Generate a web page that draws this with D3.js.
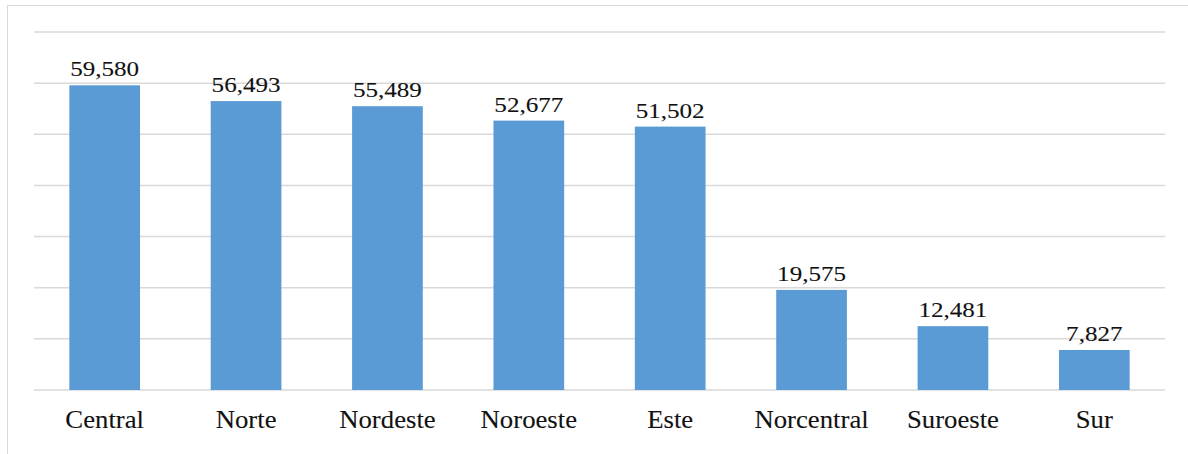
<!DOCTYPE html>
<html>
<head>
<meta charset="utf-8">
<script src="https://cdn.jsdelivr.net/npm/d3@7"></script>
<style>
  body { margin: 0; background: #fff; }
</style>
</head>
<body>
<div id="chart-area"></div>
<script>
// Data
var regions = ["Central", "Norte", "Nordeste", "Noroeste", "Este", "Norcentral", "Suroeste", "Sur"];
var counts = [59580, 56493, 55489, 52677, 51502, 19575, 12481, 7827];
var gridTicks = [0, 10000, 20000, 30000, 40000, 50000, 60000, 70000];

var data = regions.map(function(r, i) { return { region: r, value: counts[i] }; });

var serif = "'Liberation Serif', 'Times New Roman', serif";

var W = 1188, H = 454;
var margin = { left: 34, right: 23, top: 32, bottom: 64 },
    width = W - margin.left - margin.right,
    height = H - margin.top - margin.bottom;

var svg = d3.select("#chart-area").append("svg")
    .attr("width", W)
    .attr("height", H);

// chart frame
svg.append("rect")
    .attr("x", 7.5).attr("y", 5.5)
    .attr("width", W).attr("height", H)
    .attr("fill", "none")
    .attr("stroke", "#d9d9d9")
    .attr("stroke-width", 1);

var g = svg.append("g")
    .attr("transform", "translate(" + margin.left + "," + margin.top + ")");

var x = d3.scaleBand().domain(regions).range([0, width])
    .paddingInner(0.5).paddingOuter(0.25);
var y = d3.scaleLinear().domain([0, 70000]).range([height, 0]);

// gridlines
g.selectAll(".grid").data(gridTicks).enter().append("line")
    .attr("class", "grid")
    .attr("x1", 0).attr("x2", width)
    .attr("y1", function(d) { return y(d); })
    .attr("y2", function(d) { return y(d); })
    .attr("stroke", "#d9d9d9")
    .attr("stroke-width", 1.5);

// bars
g.selectAll(".bar").data(data).enter().append("rect")
    .attr("class", "bar")
    .attr("x", function(d) { return x(d.region); })
    .attr("y", function(d) { return y(d.value); })
    .attr("width", x.bandwidth())
    .attr("height", function(d) { return height - y(d.value); })
    .attr("fill", "#5b9bd5");

// value labels (a bit wide, like the source)
var fmt = d3.format(",");
g.selectAll(".val").data(data).enter().append("text")
    .attr("class", "val")
    .attr("transform", function(d) {
        return "translate(" + (x(d.region) + x.bandwidth() / 2) + "," + (y(d.value) - 9) + ") scale(1.14,1)";
    })
    .attr("text-anchor", "middle")
    .attr("font-family", serif)
    .attr("font-size", 22)
    .attr("fill", "#111")
    .attr("stroke", "#111")
    .attr("stroke-width", 0.1)
    .text(function(d) { return fmt(d.value); });

// x axis labels
var xAxis = g.append("g")
    .attr("transform", "translate(0," + height + ")")
    .call(d3.axisBottom(x).tickSize(0).tickPadding(0));
xAxis.select(".domain").remove();
xAxis.selectAll("text")
    .attr("y", 0)
    .attr("dy", 0)
    .attr("transform", "translate(0,38) scale(1.07,1)")
    .attr("font-family", serif)
    .attr("font-size", 25)
    .attr("fill", "#111")
    .attr("stroke", "#111")
    .attr("stroke-width", 0.1);
</script>
</body>
</html>
